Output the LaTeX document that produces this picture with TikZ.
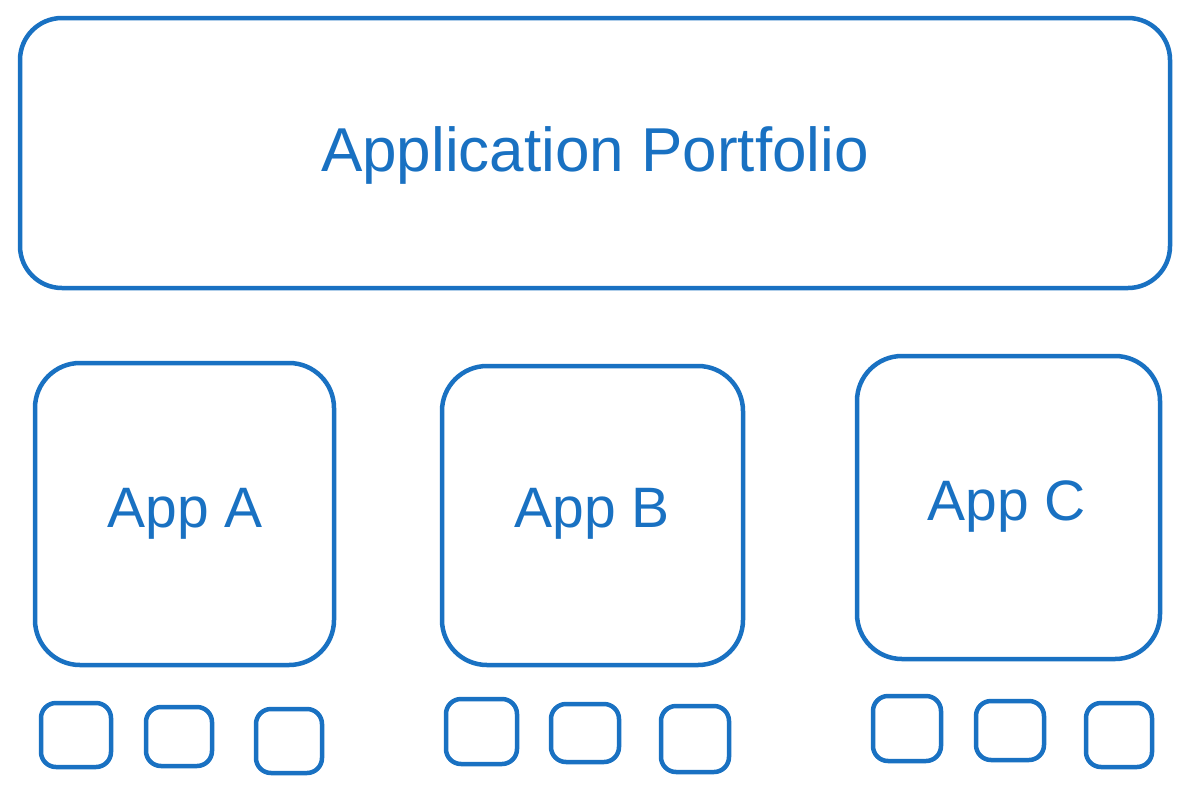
\documentclass[tikz,border=0pt]{standalone}
\usepackage{fontspec}
\setmainfont{Liberation Sans}
\definecolor{inkblue}{HTML}{1971C2}
\begin{document}
\begin{tikzpicture}[x=1pt,y=-1pt,
  box/.style={draw=inkblue, line width=4.5pt, rounded corners=#1, fill=white},
  box/.default=40pt,
  title/.style={text=inkblue, font=\fontsize{62}{74}\selectfont},
  label/.style={text=inkblue, font=\fontsize{57}{68}\selectfont}]
\useasboundingbox (0,0) rectangle (1189,793);

% portfolio frame
\draw[box=42pt] (20,18) rectangle (1170,288);
\node[title] (portfolio) at (595,155) {Application Portfolio};

% application boxes
\draw[box=45pt] (35,363) rectangle (334,665);
\node[label] (appA) at (185,514) {App A};
\draw[box=45pt] (442,366) rectangle (743,665);
\node[label] (appB) at (592,514) {App B};
\draw[box=45pt] (857,356) rectangle (1160,659);
\node[label] (appC) at (1007,507) {App C};

% components under App A
\draw[box=15pt] (41,703) rectangle (111,767);
\draw[box=15pt] (146,707) rectangle (212,766);
\draw[box=15pt] (256,709) rectangle (322,773);
% components under App B
\draw[box=15pt] (446,699) rectangle (517,764);
\draw[box=15pt] (551,704) rectangle (619,762);
\draw[box=15pt] (661,706) rectangle (729,772);
% components under App C
\draw[box=15pt] (873,696) rectangle (941,761);
\draw[box=15pt] (976,701) rectangle (1044,760);
\draw[box=15pt] (1086,703) rectangle (1152,767);
\end{tikzpicture}
\end{document}
